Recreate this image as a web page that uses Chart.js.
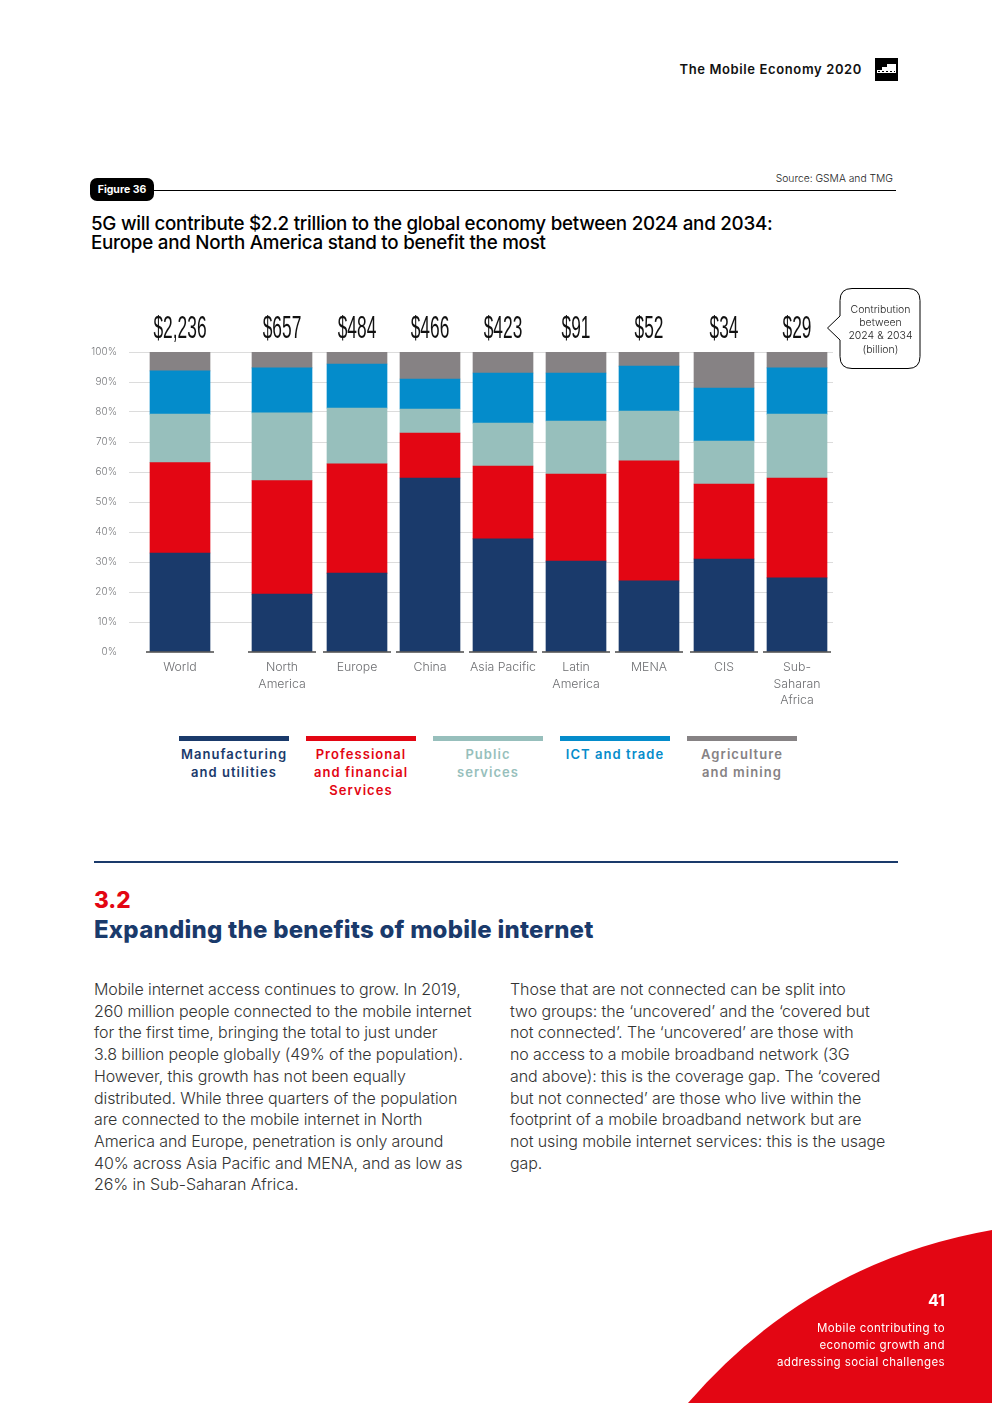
<!DOCTYPE html>
<html><head><meta charset="utf-8">
<script src="https://cdn.jsdelivr.net/npm/chart.js@4/dist/chart.umd.min.js"></script>
<style>
html,body{margin:0;padding:0;background:#fff}
#page{position:relative;width:992px;height:1403px;overflow:hidden;font-family:Inter,"Noto Sans",sans-serif}
.t{position:absolute;white-space:nowrap;line-height:1}
canvas{position:absolute;left:0;top:290px}
.leg{position:absolute;top:736px;width:110px;border-top:5px solid;padding-top:4px;text-align:center;font-size:13px;font-weight:600;line-height:18px;letter-spacing:1.05px;white-space:nowrap}
.body{position:absolute;top:979px;font-size:16px;font-weight:300;line-height:21.72px;color:#333;white-space:nowrap;letter-spacing:-.1px}
</style></head><body><div id="page">
<div class="t" style="right:130px;top:63px;font-size:13px;font-weight:600;letter-spacing:.62px;color:#111">The Mobile Economy 2020</div>
<svg style="position:absolute;left:875px;top:58px" width="23" height="23"><rect width="23" height="23" fill="#000"/><path d="M2 12h5V9h5V6h9v9H2z" fill="#fff"/><path d="M3 13.500h17" stroke="#000" stroke-dasharray="2 2"/></svg>
<div class="t" style="right:99px;top:173px;font-size:10.300px;font-weight:300;color:#222">Source: GSMA and TMG</div>
<div style="position:absolute;left:150px;top:190px;width:746px;height:1px;background:#000"></div>
<div class="t" style="left:90px;top:178px;width:64px;height:23px;background:#000;border-radius:7px;color:#fff;font-size:10.500px;font-weight:700;line-height:24px;text-align:center">Figure 36</div>
<div class="t" style="left:91px;top:214px;font-size:18.800px;font-weight:500;line-height:19px;color:#000;letter-spacing:-.25px">5G will contribute $2.2 trillion to the global economy between 2024 and 2034:<br>Europe and North America stand to benefit the most</div>
<canvas id="c" width="992" height="430" style="width:992px;height:430px"></canvas>
<svg style="position:absolute;left:820px;top:280px" width="110" height="100"><path d="M32 8.500h56q12 0 12 12v56q0 12-12 12H32q-12 0-12-12V60L7.500 48 20 36V20.500q0-12 12-12z" fill="#fff" stroke="#000" stroke-width="1"/></svg>
<div class="t" style="left:840px;top:302.500px;width:81px;text-align:center;font-size:10.500px;font-weight:300;line-height:13.400px;color:#222">Contribution<br>between<br>2024 &amp; 2034<br>(billion)</div>
<div class="leg" style="left:179px;border-color:#1a3a6b;color:#1a3a6b">Manufacturing<br>and utilities</div>
<div class="leg" style="left:306px;border-color:#e30613;color:#e30613">Professional<br>and financial<br>Services</div>
<div class="leg" style="left:433px;border-color:#97bfbc;color:#97bfbc">Public<br>services</div>
<div class="leg" style="left:560px;border-color:#048ccb;color:#048ccb">ICT and trade</div>
<div class="leg" style="left:687px;border-color:#868284;color:#868284">Agriculture<br>and mining</div>
<div style="position:absolute;left:94px;top:861px;width:804px;height:2px;background:#1a3a6b"></div>
<div class="t" style="left:94px;top:889px;font-size:22.500px;font-weight:800;color:#e30613">3.2</div>
<div class="t" style="left:94px;top:918px;font-size:24px;font-weight:800;color:#1a3a6b;letter-spacing:.23px">Expanding the benefits of mobile internet</div>
<div class="body" style="left:94px">Mobile internet access continues to grow. In 2019,<br>260 million people connected to the mobile internet<br>for the first time, bringing the total to just under<br>3.8 billion people globally (49% of the population).<br>However, this growth has not been equally<br>distributed. While three quarters of the population<br>are connected to the mobile internet in North<br>America and Europe, penetration is only around<br>40% across Asia Pacific and MENA, and as low as<br>26% in Sub-Saharan Africa.</div>
<div class="body" style="left:510px">Those that are not connected can be split into<br>two groups: the ‘uncovered’ and the ‘covered but<br>not connected’. The ‘uncovered’ are those with<br>no access to a mobile broadband network (3G<br>and above): this is the coverage gap. The ‘covered<br>but not connected’ are those who live within the<br>footprint of a mobile broadband network but are<br>not using mobile internet services: this is the usage<br>gap.</div>
<svg style="position:absolute;left:0;top:0" width="992" height="1403"><path d="M688 1403Q810 1262 992 1230V1403Z" fill="#e30613"/></svg>
<div class="t" style="right:47px;top:1292px;font-size:16px;font-weight:700;color:#fff">41</div>
<div class="t" style="right:47px;top:1320px;font-size:11.500px;font-weight:400;line-height:17px;letter-spacing:.4px;color:#fff;text-align:right">Mobile contributing to<br>economic growth and<br>addressing social challenges</div>
</div>
<script>
const categories = ["World", ["North","America"], "Europe", "China", "Asia Pacific", ["Latin","America"], "MENA", "CIS", ["Sub-","Saharan","Africa"]];
const totals = ["$2,236","$657","$484","$466","$423","$91","$52","$34","$29"];
const manufacturing = [33.0,19.3,26.3,58.0,37.7,30.3,23.7,31.0,24.7];
const professional  = [30.1,37.8,36.4,15.0,24.3,29.0,40.0,25.0,33.3];
const publicServices= [16.2,22.6,18.6, 8.0,14.3,17.7,16.6,14.3,21.3];
const ictTrade      = [14.4,15.0,14.7,10.0,16.7,16.0,15.0,17.7,15.4];
const agriculture   = [ 6.3, 5.3, 4.0, 9.0, 7.0, 7.0, 4.7,12.0, 5.3];

class GappedCategory extends Chart.CategoryScale {
  getPixelForValue(value, index) {
    const o = this.options, v = value == null ? index : value;
    let extra = 0;
    for (let i = 0; i <= v; i++) extra += o.gaps[i] || 0;
    return this.left + o.startPad + v * o.step + extra;
  }
}
GappedCategory.id = 'gappedCategory';
GappedCategory.defaults = Chart.CategoryScale.defaults;
Chart.register(GappedCategory);

const extras = {
  id: 'extras',
  afterDatasetsDraw(chart) {
    const {ctx, scales:{x, y}} = chart;
    ctx.save();
    const base = y.getPixelForValue(0);
    ctx.strokeStyle = '#4a4a4a'; ctx.lineWidth = 1.5;
    categories.forEach((c, i) => {
      const px = x.getPixelForValue(i);
      ctx.beginPath(); ctx.moveTo(px - 34, base); ctx.lineTo(px + 34, base); ctx.stroke();
    });
    ctx.fillStyle = '#111'; ctx.textAlign = 'center'; ctx.textBaseline = 'alphabetic';
    ctx.font = '31px "Liberation Sans"';
    totals.forEach((t, i) => {
      ctx.save();
      ctx.translate(x.getPixelForValue(i), 338 - 290);
      ctx.scale(.56, 1);
      ctx.fillText(t, 0, 0);
      ctx.restore();
    });
    ctx.restore();
  }
};
const mk = (label, data, color) => ({label, data, backgroundColor: color, stack: 's', barThickness: 60, borderWidth: 0});
new Chart(document.getElementById('c'), {
  type: 'bar',
  data: { labels: categories, datasets: [
    mk('Manufacturing and utilities', manufacturing, '#1a3a6b'),
    mk('Professional and financial Services', professional, '#e30613'),
    mk('Public services', publicServices, '#97bfbc'),
    mk('ICT and trade', ictTrade, '#048ccb'),
    mk('Agriculture and mining', agriculture, '#868284')
  ]},
  options: {
    responsive: false, animation: false, devicePixelRatio: 1,
    layout: { padding: { left: 0, right: 159, top: 62, bottom: 0 } },
    plugins: { legend: {display:false}, tooltip: {enabled:false}, title:{display:false} },
    scales: {
      x: { type: 'gappedCategory', stacked: true, startPad: 51, step: 73, gaps: [0,29,2,0,0,0,0,2,0],
        grid: {display:false}, border: {display:false},
        afterFit(s){ s.height = 68; },
        ticks: { autoSkip:false, maxRotation:0, minRotation:0, padding: -1, color:'#6d6e71',
          font:{family:'Inter', size:12.3, weight:300, lineHeight:1.35} } },
      y: { stacked: true, min: 0, max: 100, 
        grid: {color: c => c.tick && c.tick.value === 0 ? 'rgba(0,0,0,0)' : '#dcdcdc', lineWidth:1, drawTicks:false}, border: {display:false},
        afterFit(s){ s.width = 129; },
        ticks: { stepSize: 10, padding: 12, color:'#77787b', callback: v => v + '%',
          font:{family:'Inter', size:10, weight:300} } }
    }
  },
  plugins: [extras]
});
</script></body></html>
